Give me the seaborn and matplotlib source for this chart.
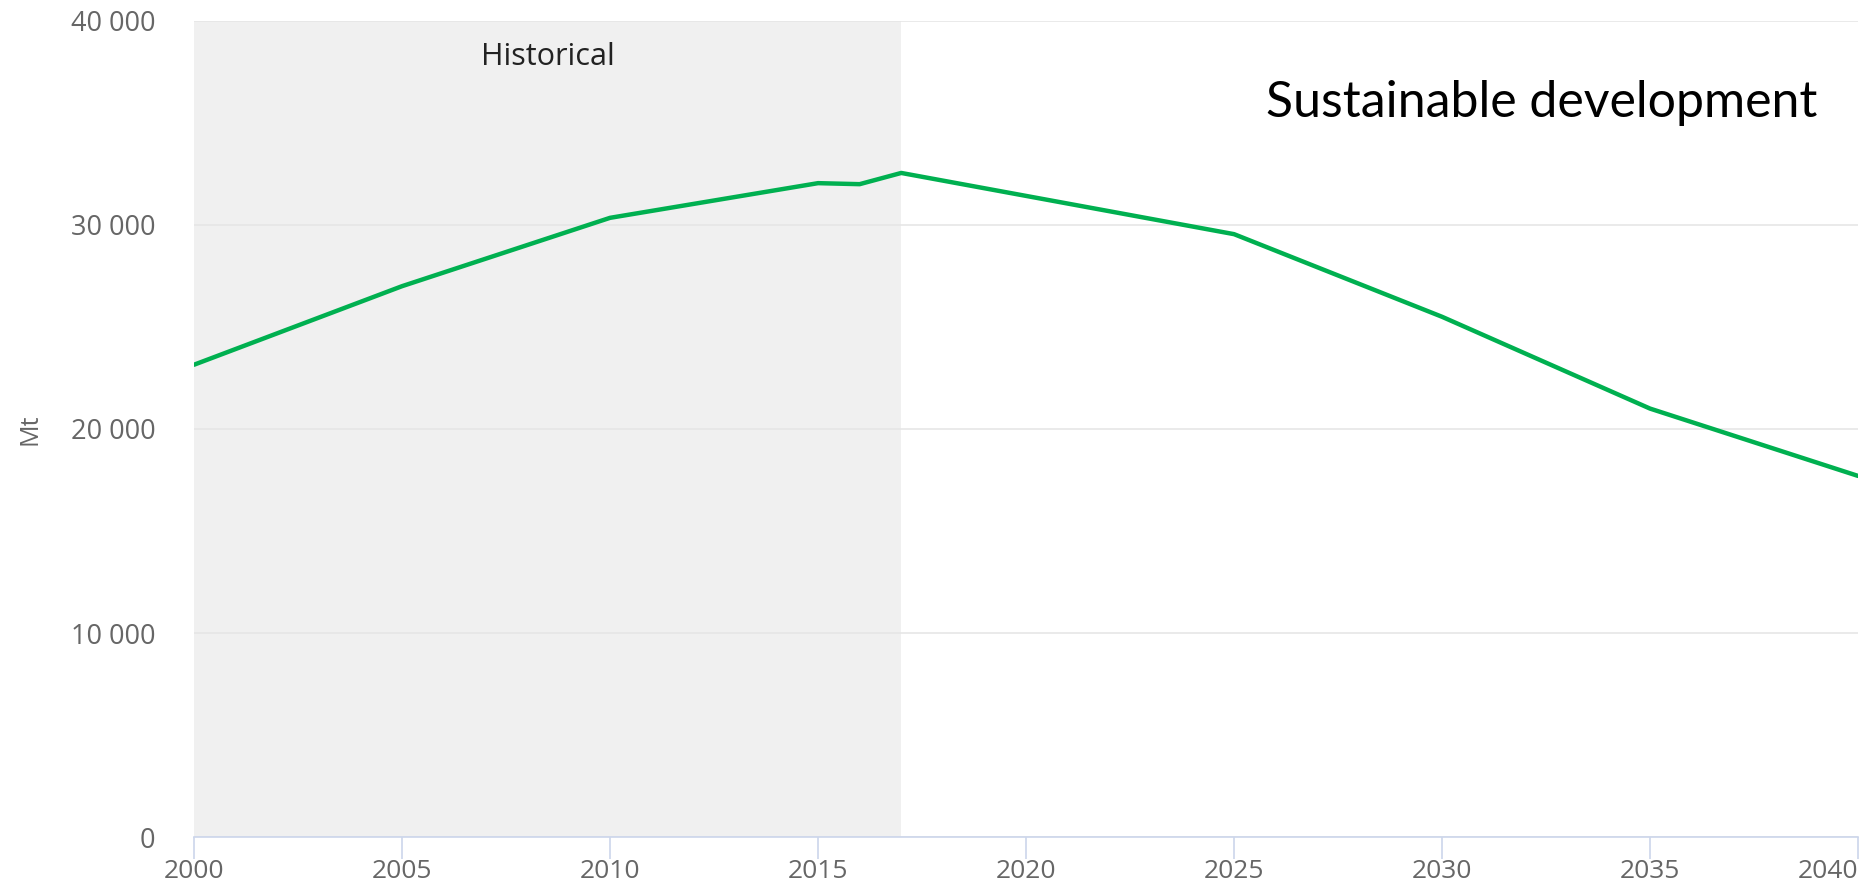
import matplotlib
import pandas as pd
import numpy as np
import seaborn as sns
import matplotlib.pyplot as plt

sns.set_style('white')
plt.rcParams['font.family'] = ['Open Sans', 'DejaVu Sans']

# CO2 emissions, Sustainable development scenario (Mt)
years = [2000, 2005, 2010, 2015, 2016, 2017, 2025, 2030, 2035, 2040]
emissions = [23150, 27000, 30350, 32050, 32000, 32550, 29550, 25500, 21000, 17700]
x_ticks = [2000, 2005, 2010, 2015, 2020, 2025, 2030, 2035, 2040]
y_ticks = [0, 10000, 20000, 30000, 40000]
y_tick_labels = ['0', '10 000', '20 000', '30 000', '40 000']

df = pd.DataFrame({'year': years, 'Mt': emissions})

fig = plt.figure(figsize=(18.64, 8.88), dpi=100)
ax = fig.add_axes([0.1041, 0.0574, 0.8927, 0.919])

# historical shading
ax.axvspan(2000, 2017, color='#f0f0f0', zorder=0, lw=0)

sns.lineplot(data=df, x='year', y='Mt', ax=ax, color='#00b050', linewidth=3.2, zorder=3)

ax.set_xlim(2000, 2040)
ax.set_ylim(0, 40000)
ax.set_xticks(x_ticks)
ax.set_yticks(y_ticks)
ax.set_yticklabels(y_tick_labels)
ax.yaxis.grid(True, color='#e6e6e6', linewidth=1.2, zorder=1)
ax.xaxis.grid(False)
ax.set_axisbelow(True)

for s in ['top', 'right', 'left']:
    ax.spines[s].set_visible(False)
ax.spines['bottom'].set_color('#ccd6eb')
ax.spines['bottom'].set_linewidth(1.2)

ax.tick_params(axis='x', length=16, width=1.2, color='#ccd6eb', labelsize=19,
               labelcolor='#666666', direction='out', pad=0, bottom=True)
ax.tick_params(axis='y', length=0, labelsize=19.5, labelcolor='#666666', pad=28)
ax.get_xticklabels()[-1].set_horizontalalignment('right')

ax.set_xlabel('')
ax.set_ylabel('Mt', fontsize=18, color='#666666', labelpad=20)

ax.text(2008.5, 38250, 'Historical', fontsize=22, color='#222222', ha='center', va='center')
ax.text(2032.4, 36000, 'Sustainable development', fontsize=36, color='black',
        ha='center', va='center', family=['Lato', 'DejaVu Sans'])

fig.savefig('out.png', dpi=100)
